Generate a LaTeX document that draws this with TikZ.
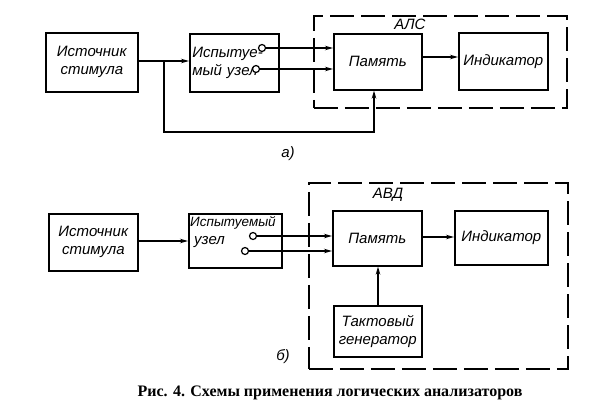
\documentclass[tikz,border=0pt]{standalone}
\usepackage{fontspec}
\setmainfont{Liberation Serif}
\newfontfamily\lbl{Liberation Sans}
\usetikzlibrary{arrows.meta,calc}
\begin{document}
\begin{tikzpicture}[x=1pt,y=-1pt,
 box/.style={draw, line width=1.6pt, anchor=north west, inner sep=2pt, font=\lbl\itshape\fontsize{15}{18}\selectfont, align=center},
 lab/.style={font=\lbl\itshape\fontsize{15}{18}\selectfont, inner sep=0pt},
 arr/.style={line width=1.4pt, -{Stealth[length=8pt,width=4.5pt]}},
 frame/.style={draw, line width=1.6pt, dash pattern=on 24pt off 7pt, anchor=north west, inner sep=0pt},
 term/.style={circle, draw, line width=1.2pt, fill=white, inner sep=0pt, minimum size=7pt}]
\useasboundingbox (0,0) rectangle (597,415);
% ---------- a) ----------
\node[frame, minimum width=253pt, minimum height=92pt] (alsfr) at (313,15) {};
\node[lab] (als) at (410,24) {АЛС};
\node[box, minimum width=92pt, minimum height=59pt] (srcA) at (45,32) {Источник\\стимула};
\node[box, minimum width=89pt, minimum height=58pt, text width=84pt, align=left] (iuA) at (189,33) {Испытуе-\\мый узел};
\node[box, minimum width=88pt, minimum height=56pt] (pamA) at (333,33) {Память};
\node[box, minimum width=89pt, minimum height=57pt] (indA) at (458,32) {Индикатор};
\node[term] (tA1) at (262,48) {};
\node[term] (tA2) at (256,69) {};
\coordinate (brA) at (164,61);
\coordinate (dnA) at (164,132);
\draw[arr] (srcA.east |- brA) -- (iuA.west |- brA);
\draw[arr] (tA1) -- (tA1 -| pamA.west);
\draw[arr] (tA2) -- (tA2 -| pamA.west);
\draw[arr] (pamA.east |- 0,57) -- (indA.west |- 0,57);
\draw[arr] (brA) -- (dnA) -- (374,132) -- (374,0 |- pamA.south);
\node[lab] (capA) at (288,154) {а)};
% ---------- b) ----------
\node[frame, minimum width=259pt, minimum height=186pt] (avdfr) at (308,182) {};
\node[lab] (avd) at (388,195) {АВД};
\node[box, minimum width=89pt, minimum height=57pt] (srcB) at (48,213) {Источник\\стимула};
\node[box, minimum width=93pt, minimum height=54pt] (iuB) at (188,213) {};
\node[lab, anchor=west, font=\lbl\itshape\fontsize{13.5}{16}\selectfont] (iuBt1) at (190,223) {Испытуемый};
\node[lab, anchor=west] (iuBt2) at (194,242) {узел};
\node[box, minimum width=89pt, minimum height=55pt] (pamB) at (332,210) {Память};
\node[box, minimum width=93pt, minimum height=54pt] (indB) at (454,210) {Индикатор};
\node[box, minimum width=88pt, minimum height=51pt] (tgB) at (333,305) {Тактовый\\генератор};
\node[term] (tB1) at (253,236) {};
\node[term] (tB2) at (245,251) {};
\draw[arr] (srcB.east |- 0,241) -- (iuB.west |- 0,241);
\draw[arr] (tB1) -- (tB1 -| pamB.west);
\draw[arr] (tB2) -- (tB2 -| pamB.west);
\draw[arr] (pamB.east |- 0,237) -- (indB.west |- 0,237);
\draw[arr] (tgB.north -| 378,0) -- (pamB.south -| 378,0);
\node[lab] (capB) at (283,357) {б)};
% ---------- caption ----------
\node[font=\bfseries\fontsize{16}{18}\selectfont, inner sep=0pt] (cap) at (330,393) {Рис. 4. Схемы применения логических анализаторов};
\end{tikzpicture}
\end{document}
